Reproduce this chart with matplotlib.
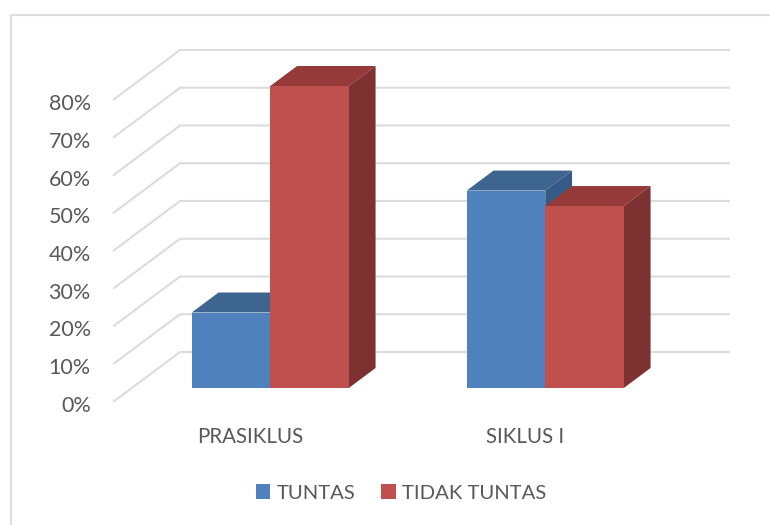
#!/usr/bin/env python

import matplotlib
matplotlib.use('Agg')
import matplotlib.pyplot as plt
from matplotlib.lines import Line2D
from matplotlib.patches import Patch
from matplotlib.transforms import ScaledTranslation

plt.rcParams['font.family'] = ['Lato', 'DejaVu Sans']

categories = ['PRASIKLUS', 'SIKLUS I']
tuntas = [20, 52.3]
tidak_tuntas = [80, 48.2]
yticks = [0, 10, 20, 30, 40, 50, 60, 70, 80]
ytick_labels = ['0%', '10%', '20%', '30%', '40%', '50%', '60%', '70%', '80%']

W, H = 770, 525
PX_X = 275.0     # pixels per category
PX_Y = 3.775     # pixels per percent
DX = 67 / PX_X   # full depth of the box in data units
DY = 50 / PX_Y
BAR_W = 0.2855
BAR_SHIFT = 1 / PX_X
D0, D1 = 0.28, 0.68  # where the bars sit in the depth

BLUE = ('#4F81BD', '#3E6490', '#355A85')
RED = ('#C0504D', '#953A38', '#7D3130')
GRID = '#DCDCDC'
TEXT = '#595959'


def proj(x, y, d):
    return x + d * DX, y + d * DY


def draw_bar(ax, x0, value, colors, z):
    x1 = x0 + BAR_W
    front, top, side = colors
    def poly(pts, c, zo):
        xs, ys = zip(*pts)
        ax.fill(xs, ys, color=c, lw=0, zorder=zo, clip_on=False)
    poly([proj(x0, value, D0), proj(x1, value, D0), proj(x1, value, D1), proj(x0, value, D1)], top, z)
    poly([proj(x1, 0, D0), proj(x1, 0, D1), proj(x1, value, D1), proj(x1, value, D0)], side, z)
    fx, fy = proj(x0, 0, D0)
    ax.bar(fx, value, BAR_W, bottom=fy, align='edge', color=front, linewidth=0,
           zorder=z + 0.5, clip_on=False)


fig = plt.figure(figsize=(W / 100, H / 100), dpi=100)
ax = fig.add_axes([113 / W, (H - 402) / H, 550 / W, 80 * PX_Y / H])
ax.set_xlim(-0.5, 1.5)
ax.set_ylim(0, 80)

# chart border, only top and left show in the crop
fig.add_artist(Line2D([11 / W, 11 / W, 1], [0, 1 - 15 / H, 1 - 15 / H], transform=fig.transFigure,
                      color='#DEDEDE', lw=1.5, solid_joinstyle='miter'))

# gridlines: side wall and back wall
for v in yticks:
    xb, yb = proj(-0.5, v, 1)
    xe, _ = proj(1.5, v, 1)
    ax.plot([-0.5, xb, xe], [v, yb, yb], color=GRID, lw=1.5, zorder=1, clip_on=False,
            solid_joinstyle='miter', solid_capstyle='butt')

for i in range(len(categories)):
    draw_bar(ax, i - BAR_W + BAR_SHIFT, tuntas[i], BLUE, 2 + i * 2)
    draw_bar(ax, i + BAR_SHIFT, tidak_tuntas[i], RED, 3 + i * 2)

for s in ax.spines.values():
    s.set_visible(False)
ax.patch.set_visible(False)
ax.set_yticks(yticks)
ax.set_yticklabels(ytick_labels, fontsize=15.5, color=TEXT)
ax.set_xticks(range(len(categories)))
ax.set_xticklabels(categories, fontsize=14.8, color=TEXT)
ax.tick_params(axis='y', length=0, pad=16)
ax.tick_params(axis='x', length=0, pad=18)

# labels sit a little lower than the tick position
shift = ScaledTranslation(0, -2 / 100, fig.dpi_scale_trans)
for t in ax.get_yticklabels():
    t.set_transform(t.get_transform() + shift)

handles = [Patch(facecolor=BLUE[0]), Patch(facecolor=RED[0])]
fig.legend(handles, ['TUNTAS', 'TIDAK TUNTAS'], ncol=2, loc='center',
           bbox_to_anchor=(401 / W, 1 - 493 / H), frameon=False, fontsize=14.6,
           labelcolor=TEXT, handlelength=0.7, handleheight=0.7, handletextpad=0.3,
           columnspacing=1.3, borderpad=0, borderaxespad=0)

fig.savefig('out.png', dpi=100)
